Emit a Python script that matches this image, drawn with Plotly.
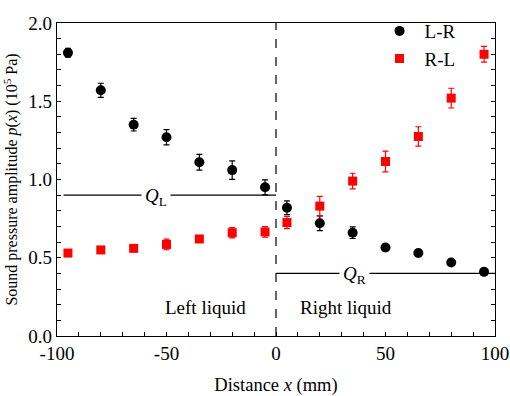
import plotly.graph_objects as go

x_pos = [-95, -80, -65, -50, -35, -20, -5, 5, 20, 35, 50, 65, 80, 95]
lr_vals = [1.81, 1.57, 1.35, 1.27, 1.11, 1.06, 0.95, 0.82, 0.72, 0.66, 0.565, 0.53, 0.47, 0.41]
lr_err = [0.028, 0.045, 0.04, 0.049, 0.05, 0.059, 0.048, 0.044, 0.047, 0.037, 0.02, 0.015, 0.012, 0.015]
rl_vals = [0.53, 0.55, 0.56, 0.585, 0.62, 0.66, 0.665, 0.725, 0.83, 0.99, 1.115, 1.275, 1.52, 1.80]
rl_err = [0.012, 0.01, 0.015, 0.034, 0.02, 0.033, 0.034, 0.039, 0.062, 0.05, 0.066, 0.062, 0.063, 0.05]

x_ticks = [-100, -50, 0, 50, 100]
x_tick_text = ["-100", "-50", "0", "50", "100"]
y_ticks = [0.0, 0.5, 1.0, 1.5, 2.0]
y_tick_text = ["0.0", "0.5", "1.0", "1.5", "2.0"]

FONT = "Liberation Serif, Times New Roman, serif"

fig = go.Figure()
fig.add_trace(go.Scatter(
    x=x_pos, y=lr_vals, mode="markers", name="L-R",
    marker=dict(symbol="circle", size=10, color="black"),
    error_y=dict(type="data", array=lr_err, color="black", thickness=1.2, width=3),
))
fig.add_trace(go.Scatter(
    x=x_pos, y=rl_vals, mode="markers", name="R-L",
    marker=dict(symbol="square", size=9, color="#ff0000"),
    error_y=dict(type="data", array=rl_err, color="#ff0000", thickness=1.2, width=3),
))

# boundary
fig.add_shape(type="line", x0=0, x1=0, y0=0, y1=2, xref="x", yref="y",
              line=dict(color="black", width=1.2, dash="dash"), layer="below")
# Q lines
fig.add_shape(type="line", x0=-97, x1=0, y0=0.9, y1=0.9, xref="x", yref="y",
              line=dict(color="black", width=1.2), layer="below")
fig.add_shape(type="line", x0=0, x1=100, y0=0.4, y1=0.4, xref="x", yref="y",
              line=dict(color="black", width=1.2), layer="below")

fig.add_annotation(x=-55, y=0.9, text="<i>Q</i><sub>L</sub>", showarrow=False,
                   font=dict(family=FONT, size=19, color="black"), bgcolor="white",
                   borderpad=3, yshift=-2)
fig.add_annotation(x=36, y=0.4, text="<i>Q</i><sub>R</sub>", showarrow=False,
                   font=dict(family=FONT, size=19, color="black"), bgcolor="white",
                   borderpad=3, yshift=-2)
fig.add_annotation(x=-32, y=0.185, text="Left liquid", showarrow=False,
                   font=dict(family=FONT, size=19, color="black"))
fig.add_annotation(x=32, y=0.185, text="Right liquid", showarrow=False,
                   font=dict(family=FONT, size=19, color="black"))

axis_common = dict(
    showgrid=False, zeroline=False, showline=True, linecolor="black", linewidth=1.2,
    ticks="inside", ticklen=4, tickwidth=1, tickcolor="black", automargin=False,
    tickfont=dict(family=FONT, size=19, color="black"),
)
fig.update_xaxes(range=[-100, 100], tickvals=x_ticks, ticktext=x_tick_text, mirror=True,
                 minor=dict(dtick=10, ticks="inside", ticklen=4, tickcolor="black"),
                 title=dict(text="Distance <i>x</i> (mm)", font=dict(family=FONT, size=18.5, color="black"),
                            standoff=16),
                 **axis_common)
fig.update_yaxes(range=[0, 2], tickvals=y_ticks, ticktext=y_tick_text, mirror="ticks",
                 minor=dict(dtick=0.1, ticks="inside", ticklen=4, tickcolor="black"),
                 title=dict(text="Sound pressure amplitude <i>p</i>(<i>x</i>) (10<sup>5</sup> Pa)",
                            font=dict(family=FONT, size=16, color="black"), standoff=6),
                 **axis_common)

fig.update_layout(
    width=510, height=396,
    margin=dict(l=57, r=15, t=14, b=60),
    paper_bgcolor="white", plot_bgcolor="white",
    font=dict(family=FONT, size=19, color="black"),
    legend=dict(x=0.725, y=1.035, xanchor="left", yanchor="top", bgcolor="rgba(0,0,0,0)",
                font=dict(family=FONT, size=19, color="black"), itemwidth=40, tracegroupgap=0),
    showlegend=True,
)

fig.write_html("out.html")
